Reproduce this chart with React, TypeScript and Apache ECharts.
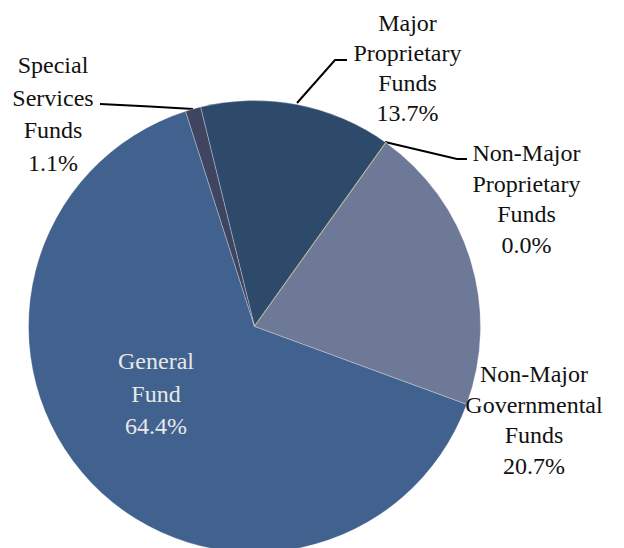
import React, { useEffect, useRef } from "react";
import * as echarts from "echarts";

const categories = [
  "Major\nProprietary\nFunds",
  "Non-Major\nProprietary\nFunds",
  "Non-Major\nGovernmental\nFunds",
  "General\nFund",
  "Special\nServices\nFunds",
];
const values = [13.7, 0.0, 20.7, 64.4, 1.1];
const colors = ["#2E4A6B", "#BDB07A", "#6E7897", "#41618E", "#3F4560"];

const FONT = "Liberation Serif";

export default function App() {
  const ref = useRef<HTMLDivElement>(null);
  useEffect(() => {
    if (!ref.current) return;
    const chart = echarts.init(ref.current, undefined, { renderer: "svg" });
    const cx = 254.5;
    const cy = 326.5;
    const r = 226;
    const labelPos: any[] = [
      { x: 407.5, y: 67.5, lh: 30, line: [[297, 103], [335, 60], [347, 60]] },
      { x: 526.5, y: 199, lh: 30.7, line: [[385, 142], [457, 159], [467, 159]] },
      { x: 534, y: 420, lh: 30.7, line: null },
      { x: 156, y: 393.5, lh: 32.3, line: null },
      { x: 53, y: 114, lh: 32.5, line: [[193, 109], [150, 106.5], [100, 104]] },
    ];
    const data = categories.map((name, i) => ({
      name,
      value: values[i],
      itemStyle:
        i === 1
          ? { color: colors[i], borderColor: colors[i], borderWidth: 1.5 }
          : { color: colors[i] },
      label: {
        rich: {
          t: {
            fontFamily: FONT,
            fontSize: 24,
            lineHeight: labelPos[i].lh,
            color: i === 3 ? "#E8E8E8" : "#111111",
            align: "center",
          },
        },
      },
      labelLine: { show: !!labelPos[i].line },
    }));
    chart.setOption({
      animation: false,
      textStyle: { fontFamily: FONT },
      series: [
        {
          type: "pie",
          center: [cx, cy],
          radius: [0, r],
          startAngle: 103.8,
          clockwise: true,
          avoidLabelOverlap: false,
          data,
          itemStyle: {
            borderColor: "rgba(255,255,255,0.35)",
            borderWidth: 0.8,
          },
          label: {
            show: true,
            position: "outside",
            fontFamily: FONT,
            fontSize: 24,
            align: "center",
            formatter: (p: any) =>
              [...String(p.name).split("\n"), `${Number(p.value).toFixed(1)}%`]
                .map((s) => `{t|${s}}`)
                .join("\n"),
          },
          labelLine: {
            show: true,
            lineStyle: { color: "#000000", width: 2 },
          },
          labelLayout: (p: any) => {
            const lp = labelPos[p.dataIndex];
            const out: any = {
              x: lp.x,
              y: lp.y,
              align: "center",
              verticalAlign: "middle",
            };
            if (lp.line) out.labelLinePoints = lp.line;
            return out;
          },
          emphasis: { disabled: true },
        },
      ],
    });
    return () => chart.dispose();
  }, []);
  return (
    <div
      ref={ref}
      style={{ position: "fixed", left: 0, top: 0, width: 624, height: 548, background: "#fff" }}
    />
  );
}
